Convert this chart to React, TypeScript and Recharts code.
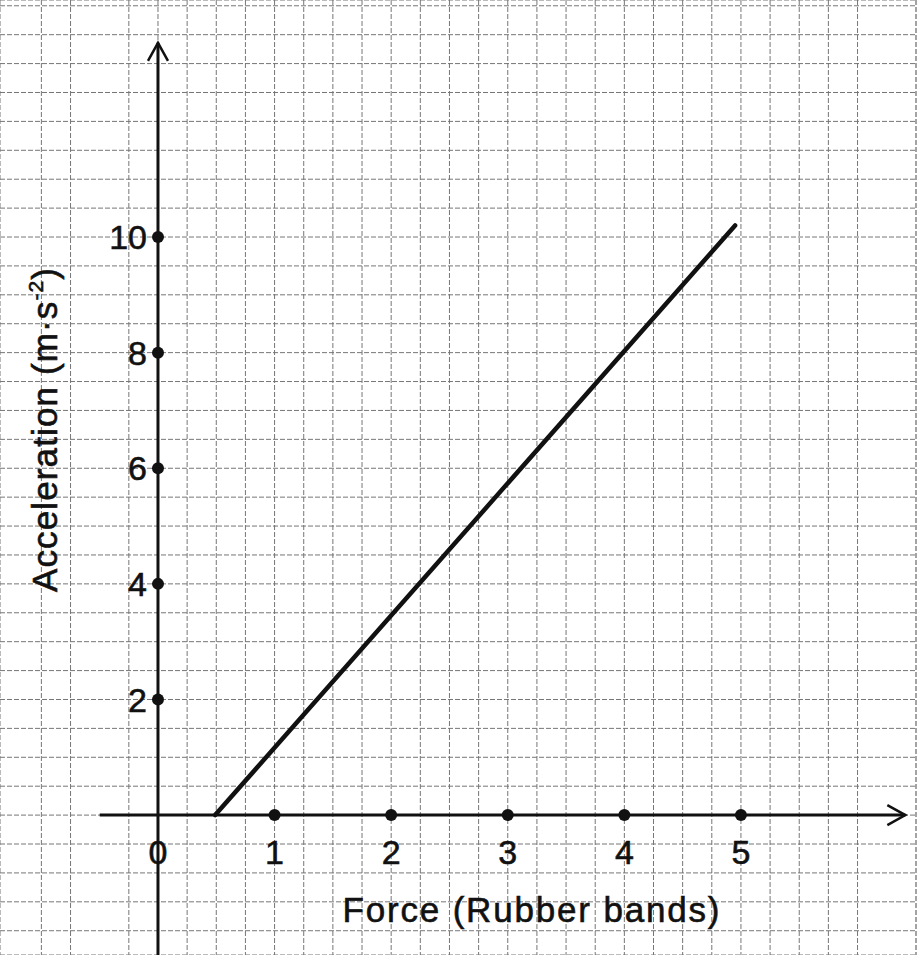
import {
  ComposedChart,
  Line,
  XAxis,
  YAxis,
  CartesianGrid,
  ReferenceLine,
  ReferenceDot,
} from "recharts";

// values
const forceTicks = [1, 2, 3, 4, 5];
const accelTicks = [2, 4, 6, 8, 10];
const forceValues = [0.49, 4.95];
const accelValues = [0, 10.2];

const xTitle = "Force (Rubber bands)";
const yTitle = "Acceleration (m·s";

const data = forceValues.map((f, i) => ({ force: f, acc: accelValues[i] }));

// visible window of the sheet, in data units
const xDomain = [-1.355, 6.51];
const yDomain = [-2.42, 14.1];

// graph paper squares: 0.25 bands across, 0.5 m/s² up
const gridX = Array.from({ length: 32 }, (_, i) => -1.25 + i * 0.25);
const gridY = Array.from({ length: 33 }, (_, i) => -2 + i * 0.5);

const font = "'Liberation Sans', Arial, sans-serif";
const ink = "#111";

function Arrow(props: any) {
  const { x1, y1, x2, y2 } = props;
  const dx = x2 - x1;
  const dy = y2 - y1;
  const len = Math.hypot(dx, dy) || 1;
  const ux = dx / len;
  const uy = dy / len;
  const bx = x2 - ux * 18;
  const by = y2 - uy * 18;
  const px = -uy * 10;
  const py = ux * 10;
  return (
    <g>
      <line x1={x1} y1={y1} x2={x2} y2={y2} stroke={ink} strokeWidth={3} />
      <polyline
        points={`${bx + px},${by + py} ${x2},${y2} ${bx - px},${by - py}`}
        fill="none"
        stroke={ink}
        strokeWidth={2.5}
      />
    </g>
  );
}

const labelStyle = {
  fontSize: 34,
  fill: ink,
  fontFamily: font,
  stroke: ink,
  strokeWidth: 0.6,
};

export default function App() {
  return (
    <div
      style={{
        position: "absolute",
        left: 0,
        top: 0,
        width: 917,
        height: 955,
        background: "#fff",
      }}
    >
      <ComposedChart
        width={917}
        height={955}
        data={data}
        margin={{ top: 0, right: 0, bottom: 0, left: 0 }}
      >
        <XAxis
          dataKey="force"
          type="number"
          domain={xDomain}
          ticks={gridX}
          allowDataOverflow
          hide
        />
        <YAxis
          type="number"
          domain={yDomain}
          ticks={gridY}
          allowDataOverflow
          hide
        />
        <CartesianGrid stroke="#767676" strokeDasharray="5 2" strokeWidth={1} />

        <ReferenceLine
          segment={[{ x: -0.5, y: 0 }, { x: 6.41, y: 0 }]}
          ifOverflow="visible"
          shape={Arrow}
        />
        <ReferenceLine
          segment={[{ x: 0, y: -2.42 }, { x: 0, y: 13.36 }]}
          ifOverflow="visible"
          shape={Arrow}
        />

        <Line
          dataKey="acc"
          type="linear"
          stroke={ink}
          strokeWidth={4.5}
          strokeLinecap="round"
          dot={false}
          activeDot={false}
          isAnimationActive={false}
        />

        <ReferenceDot
          x={0}
          y={0}
          r={0}
          stroke="none"
          label={{ value: "0", position: "bottom", offset: 25, ...labelStyle }}
        />
        {forceTicks.map((f) => (
          <ReferenceDot
            key={"f" + f}
            x={f}
            y={0}
            r={6}
            fill={ink}
            stroke="none"
            label={{ value: String(f), position: "bottom", offset: 19, ...labelStyle }}
          />
        ))}
        {accelTicks.map((a) => (
          <ReferenceDot
            key={"a" + a}
            x={0}
            y={a}
            r={6}
            fill={ink}
            stroke="none"
            label={{ value: String(a), position: "left", offset: 5, ...labelStyle }}
          />
        ))}

        <text
          x={531}
          y={922}
          textAnchor="middle"
          fontSize={35}
          fontFamily={font}
          fill={ink}
          stroke={ink}
          strokeWidth={0.6}
          textLength={377}
          lengthAdjust="spacing"
        >
          {xTitle}
        </text>
        <text
          x={57}
          y={430}
          textAnchor="middle"
          fontSize={35}
          fontFamily={font}
          fill={ink}
          stroke={ink}
          strokeWidth={0.6}
          textLength={324}
          lengthAdjust="spacing"
          transform="rotate(-90, 57, 430)"
        >
          {yTitle}
          <tspan fontSize={21} dy={-14}>-2</tspan>
          <tspan dy={14}>)</tspan>
        </text>
      </ComposedChart>
    </div>
  );
}
